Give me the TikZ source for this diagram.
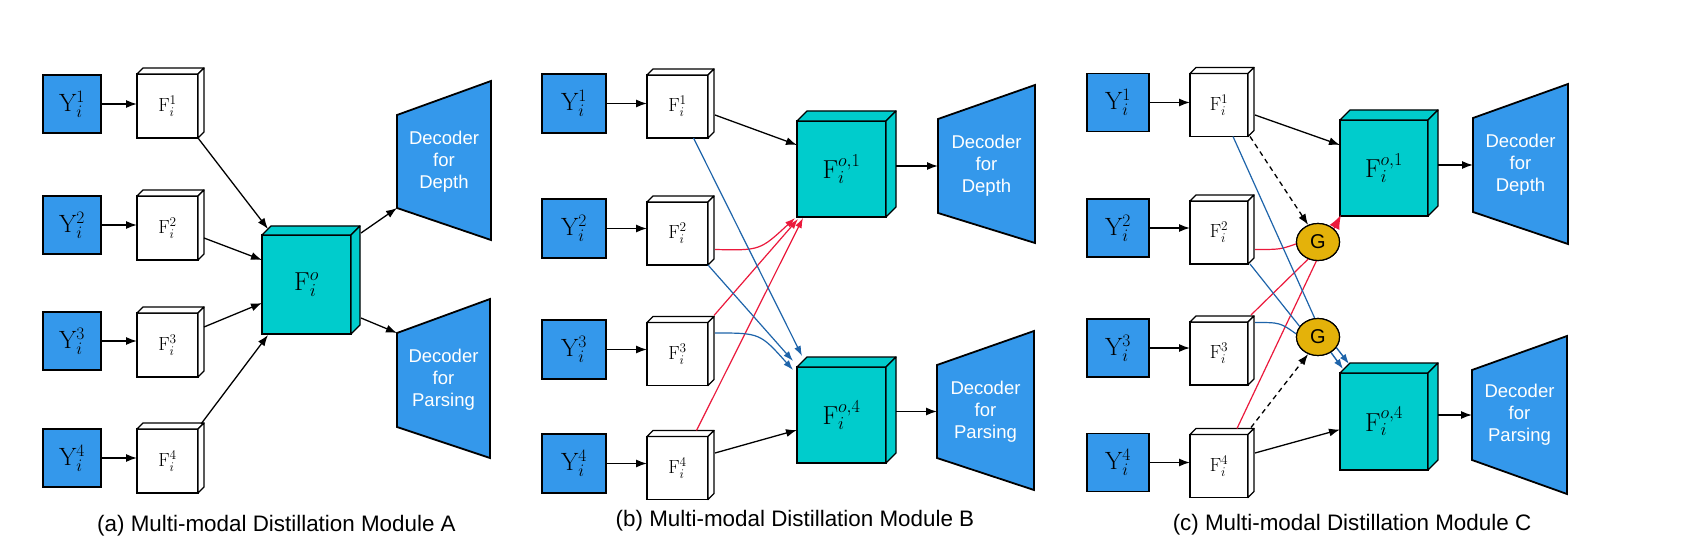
\RequirePackage{fix-cm}
\documentclass[tikz,border=0pt]{standalone}
\usepackage{fontspec}
\newfontfamily\lib{Liberation Sans}
\usetikzlibrary{arrows.meta,calc,shapes.geometric}
\definecolor{yblue}{RGB}{52,152,235}
\definecolor{fcyan}{RGB}{0,204,204}
\definecolor{ared}{RGB}{235,25,60}
\definecolor{ablue}{RGB}{30,100,170}
\definecolor{ggold}{RGB}{228,178,10}
\newcommand{\cubefaces}[3]{%
  \draw[face, fill=#3] (#1.north west) -- ++(#2,-#2) -- ($(#1.north east)+(#2,-#2)$) -- (#1.north east) -- cycle;
  \draw[face, fill=#3] (#1.north east) -- ++(#2,-#2) -- ($(#1.south east)+(#2,-#2)$) -- (#1.south east) -- cycle;}
\newcommand{\decoder}[8]{%
  \draw[dec] (#2,#3) -- (#5,#6) -- (#5,#7) -- (#2,#4) -- cycle;
  \coordinate (#1-tl) at (#2,#3);
  \coordinate (#1-bl) at (#2,#4);
  \coordinate (#1-l) at (#2,{(#3+#4)/2});
  \node[dectext] (#1) at ({(#2+#5)/2},{(#3+#4)/2}) {#8};}
\begin{document}
\begin{tikzpicture}[x=1pt,y=-1pt,
  ybox/.style={draw, line width=1.4pt, fill=yblue, inner sep=0pt, outer sep=0pt, font=\fontsize{25}{30}\selectfont},
  fbox/.style={draw, line width=1.4pt, fill=white, inner sep=0pt, outer sep=0pt, font=\fontsize{19}{23}\selectfont},
  obox/.style={draw, line width=1.6pt, fill=fcyan, inner sep=0pt, outer sep=0pt, font=\fontsize{26}{31}\selectfont},
  face/.style={line width=1.3pt, line join=round},
  dec/.style={draw, line width=1.8pt, fill=yblue, line join=miter},
  dectext/.style={text=white, font=\lib\fontsize{18.5}{22}\selectfont, align=center, inner sep=0pt},
  capt/.style={font=\lib\fontsize{22.4}{26}\selectfont, inner sep=0pt},
  arr/.style={-{Latex[length=11pt,width=8pt]}, line width=1.3pt},
  redarr/.style={-{Latex[length=10pt,width=7pt]}, line width=1.2pt, draw=ared, color=ared},
  bluearr/.style={-{Latex[length=10pt,width=7pt]}, line width=1.2pt, draw=ablue, color=ablue},
  redline/.style={line width=1.2pt, draw=ared},
  blueline/.style={line width=1.2pt, draw=ablue},
  dasharr/.style={arr, dash pattern=on 5pt off 4pt},
  gnode/.style={ellipse, draw, line width=1.2pt, fill=ggold, minimum width=43pt, minimum height=37pt, inner sep=0pt, font=\lib\fontsize{20}{24}\selectfont}
]
\useasboundingbox (0,0) rectangle (1690,556);
\fill[white] (0,0) rectangle (1690,556);

% ---------------- Panel A ----------------
\foreach \k/\yy/\fy in {1/104/106, 2/225/228, 3/341/345, 4/458/461}{
  \node[ybox, minimum width=58pt, minimum height=58pt] (ya\k) at (72,\yy) {$\mathrm{Y}_i^{\k}$};
  \node[fbox, minimum width=61pt, minimum height=64pt] (fa\k) at (167.5,\fy) {$\mathrm{F}_i^{\k}$};
  \cubefaces{fa\k}{6}{white}
  \draw[arr] (ya\k.east) -- (ya\k.east -| fa\k.west);
}
\node[obox, minimum width=89pt, minimum height=99pt] (foa) at (306.5,284.5) {$\mathrm{F}_i^{o}$};
\cubefaces{foa}{9}{fcyan}
\decoder{deca}{397}{115}{208}{491}{81}{240}{Decoder\\for\\Depth}
\decoder{decpa}{397}{333}{427}{490}{299}{458}{Decoder\\for\\Parsing}
\draw[arr] (fa1.south east) -- ($(foa.north west)+(6,-6)$);
\draw[arr] ($(fa2.east)+(6,10)$) -- ($(foa.north west)+(0,25)$);
\draw[arr] ($(fa3.east)+(6,-18)$) -- ($(foa.south west)+(0,-31)$);
\draw[arr] ($(fa4.north east)+(3,-5)$) -- ($(foa.south west)+(6,1)$);
\draw[arr] ($(foa.north east)+(10,-2)$) -- (deca-bl);
\draw[arr] ($(foa.south east)+(10,-16)$) -- (decpa-tl);
\node[capt] (capa) at (276.5,526) {(a) Multi-modal Distillation Module A};

% ---------------- Panel B ----------------
\foreach \k/\yy/\fy in {1/103.5/106.5, 2/228.5/233.5, 3/349.5/354, 4/463.5/468}{
  \node[ybox, minimum width=64pt, minimum height=59pt] (yb\k) at (574,\yy) {$\mathrm{Y}_i^{\k}$};
  \node[fbox, minimum width=61pt, minimum height=63pt] (fb\k) at (677.5,\fy) {$\mathrm{F}_i^{\k}$};
  \cubefaces{fb\k}{6}{white}
  \draw[arr] (yb\k.east) -- (yb\k.east -| fb\k.west);
}
\node[obox, minimum width=89pt, minimum height=96pt] (fob1) at (841.5,169) {$\mathrm{F}_i^{o,1}$};
\cubefaces{fob1}{10}{fcyan}
\node[obox, minimum width=89pt, minimum height=96pt] (fob4) at (841.5,415) {$\mathrm{F}_i^{o,4}$};
\cubefaces{fob4}{10}{fcyan}
\decoder{decb}{938}{119}{213}{1035}{85}{243}{Decoder\\for\\Depth}
\decoder{decpb}{937}{365}{458}{1034}{331}{490}{Decoder\\for\\Parsing}
\draw[arr] ($(fb1.east)+(7,8.5)$) -- ($(fob1.west)+(0,-24)$);
\draw[arr] ($(fb4.east)+(7,-15)$) -- ($(fob4.west)+(0,15)$);
\draw[arr] ($(fob1.east)+(10,-3)$) -- (decb-l);
\draw[arr] ($(fob4.east)+(10,-3.5)$) -- (decpb-l);
% red: to F^{o,1}
\draw[redarr] ($(fb2.east)+(7,16)$) .. controls +(45,1) .. ($(fob1.south west)+(-2,1)$);
\draw[redarr] ($(fb3.north east)+(6,-7)$) -- ($(fob1.south west)+(1,2)$);
\draw[redarr] ($(fb4.north)+(19,-6)$) -- ($(fob1.south west)+(6,1)$);
% blue: to F^{o,4}
\draw[bluearr] ($(fb1.south)+(16,0)$) -- ($(fob4.north west)+(5,-11)$);
\draw[bluearr] (fb2.south east) -- ($(fob4.north west)+(-4,-6)$);
\draw[bluearr] ($(fb3.east)+(7,-21)$) .. controls +(45,0) .. ($(fob4.north west)+(-4,3)$);
\node[capt] (capb) at (795,521) {(b) Multi-modal Distillation Module B};

% ---------------- Panel C ----------------
\foreach \k/\yy/\fy in {1/102.5/105, 2/228/232.5, 3/348/353.5, 4/462.5/466}{
  \node[ybox, minimum width=62pt, minimum height=58pt] (yc\k) at (1118,\yy) {$\mathrm{Y}_i^{\k}$};
  \node[fbox, minimum width=58pt, minimum height=63pt] (fc\k) at (1219,\fy) {$\mathrm{F}_i^{\k}$};
  \cubefaces{fc\k}{6}{white}
  \draw[arr] (yc\k.east) -- (yc\k.east -| fc\k.west);
}
\node[obox, minimum width=88pt, minimum height=96pt] (foc1) at (1384,168) {$\mathrm{F}_i^{o,1}$};
\cubefaces{foc1}{10}{fcyan}
\node[obox, minimum width=88pt, minimum height=97pt] (foc4) at (1384,421.5) {$\mathrm{F}_i^{o,4}$};
\cubefaces{foc4}{10}{fcyan}
\decoder{decc}{1473}{118}{212}{1568}{84}{244}{Decoder\\for\\Depth}
\decoder{decpc}{1472}{370}{460}{1567}{336}{494}{Decoder\\for\\Parsing}
\node[gnode] (g1) at (1318,242) {G};
\node[gnode] (g2) at (1318,337) {G};
\draw[arr] ($(fc1.east)+(7,10)$) -- ($(foc1.west)+(0,-23)$);
\draw[arr] ($(fc4.east)+(7,-13)$) -- ($(foc4.west)+(0,8)$);
\draw[arr] ($(foc1.east)+(10,-3)$) -- (decc-l);
\draw[arr] ($(foc4.east)+(10,-6.5)$) -- (decpc-l);
\draw[dasharr] ($(fc1.south east)+(2,0)$) -- (g1.120);
\draw[dasharr] ($(fc4.north east)+(3,-7)$) -- (g2.240);
% red into G1
\draw[redline] ($(fc2.east)+(7,17)$) .. controls +(25,0) .. (g1.185);
\draw[redline] ($(fc3.north east)+(3,-7)$) -- (g1.240);
\draw[redline] ($(fc4.north)+(18,-6)$) -- (g1.265);
\draw[-{Latex[length=14pt,width=11pt]}, line width=1.3pt, draw=ared, color=ared] (g1.40) -- ($(foc1.south west)+(1,-1)$);
% blue into G2
\draw[blueline] ($(fc1.south)+(14,0)$) -- (g2.100);
\draw[blueline] ($(fc2.south east)+(2,0)$) -- (g2.150);
\draw[blueline] ($(fc3.east)+(7,-31)$) .. controls +(25,0) .. (g2.172);
\draw[bluearr, line width=1.4pt] (g2.-50) -- ($(foc4.north west)+(3,-4)$);
\draw[bluearr, line width=1.4pt] (g2.-30) -- ($(foc4.north west)+(9,-9)$);
\node[gnode] at (g1) {G};
\node[gnode] at (g2) {G};
\node[capt] (capc) at (1352,525) {(c) Multi-modal Distillation Module C};
\end{tikzpicture}
\end{document}
